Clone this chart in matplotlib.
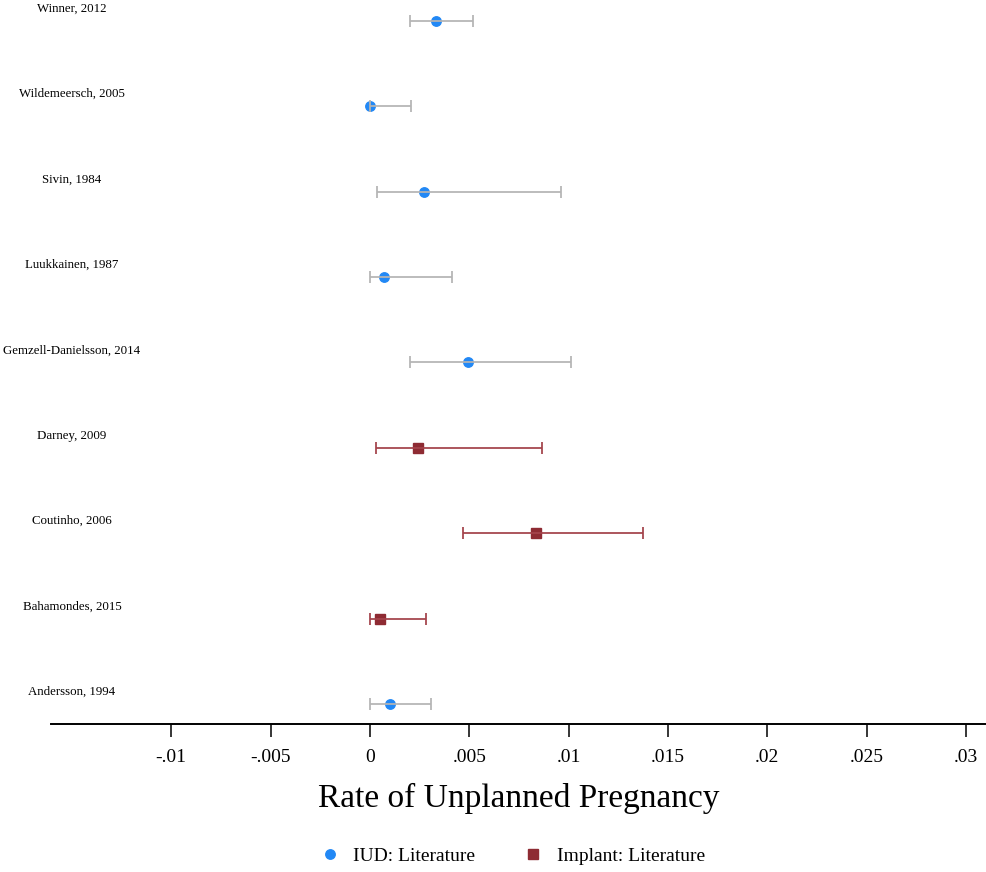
import matplotlib
matplotlib.use("Agg")
import matplotlib.pyplot as plt
import matplotlib.transforms as mtransforms
from matplotlib.lines import Line2D

plt.rcParams["font.family"] = ["Liberation Serif", "DejaVu Serif"]

# Studies, listed top to bottom
studies = ["Winner, 2012", "Wildemeersch, 2005", "Sivin, 1984", "Luukkainen, 1987",
           "Gemzell-Danielsson, 2014", "Darney, 2009", "Coutinho, 2006",
           "Bahamondes, 2015", "Andersson, 1994"]
method = ["IUD", "IUD", "IUD", "IUD", "IUD", "Implant", "Implant", "Implant", "IUD"]
rate = [0.00332, 0.0, 0.00272, 0.00073, 0.00492, 0.00243, 0.00836, 0.00053, 0.00102]
ci_low = [0.00200, 0.0, 0.00037, 0.0, 0.00201, 0.00032, 0.00468, 0.0, 0.0]
ci_high = [0.00517, 0.00208, 0.00960, 0.00413, 0.01010, 0.00868, 0.01372, 0.00283, 0.00307]
xticks = [-0.01, -0.005, 0, 0.005, 0.01, 0.015, 0.02, 0.025, 0.03]
xtick_labels = ["-.01", "-.005", "0", ".005", ".01", ".015", ".02", ".025", ".03"]

styles = {
    "IUD": dict(marker="o", color="#2288f5", bar="#b4b4b4", label="IUD: Literature"),
    "Implant": dict(marker="s", color="#8e2b33", bar="#a4434b", label="Implant: Literature"),
}

W, H = 987, 872
fig = plt.figure(figsize=(W / 100, H / 100), dpi=100)
ax = fig.add_axes([51 / W, 1 - 724 / H, (W - 51) / W, 724 / H])

n = len(studies)
ypos = [n - i for i in range(n)]

for y, m, r, lo, hi in zip(ypos, method, rate, ci_low, ci_high):
    st = styles[m]
    ax.plot([r], [y], linestyle="none", marker=st["marker"], markersize=6.8,
            color=st["color"], zorder=2)
    ax.errorbar([r], [y], xerr=[[r - lo], [hi - r]], fmt="none", ecolor=st["bar"],
                elinewidth=1.4, capsize=4.4, capthick=1.4, alpha=0.9, zorder=3)

label_tf = mtransforms.blended_transform_factory(fig.transFigure, ax.transData)
for y, name in zip(ypos, studies):
    ax.text(72 / W, y + 0.14, name, transform=label_tf, ha="center", va="center",
            fontsize=9.3, clip_on=False)

ax.set_xlim(-0.01605, 0.03105)
ax.set_ylim(0.766, n + 0.242)
ax.set_xticks(xticks)
ax.set_xticklabels(xtick_labels, fontsize=14)
ax.set_yticks([])
for side in ["left", "right", "top"]:
    ax.spines[side].set_visible(False)
ax.spines["bottom"].set_linewidth(1.4)
ax.tick_params(axis="x", length=9, width=1.1, pad=9)
ax.set_xlabel("Rate of Unplanned Pregnancy", fontsize=24, labelpad=12)

handles = [Line2D([], [], linestyle="none", marker=styles[k]["marker"], markersize=6.8,
                  color=styles[k]["color"], label=styles[k]["label"])
           for k in ["IUD", "Implant"]]
fig.legend(handles=handles, loc="center", bbox_to_anchor=(0.5182, 1 - 856 / H), ncol=2,
           frameon=False, fontsize=14, handletextpad=0.6, columnspacing=2.38,
           handlelength=1.2)

fig.savefig("out.png", dpi=100)
